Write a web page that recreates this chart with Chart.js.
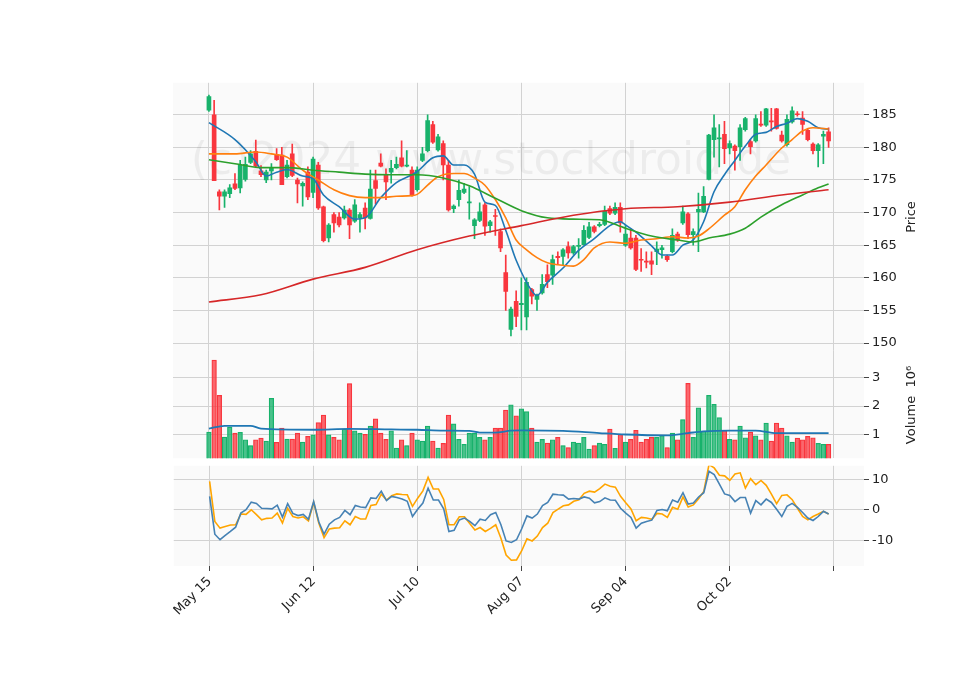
<!DOCTYPE html>
<html>
<head>
<meta charset="utf-8">
<script src="https://cdn.jsdelivr.net/npm/chart.js@4.4.1/dist/chart.umd.min.js"></script>
<style>
  body { margin: 0; background: #fff; }
  #wrap { position: relative; width: 960px; height: 690px; }
  canvas { position: absolute; left: 173px; }
</style>
</head>
<body>
<div id="wrap">
  <canvas id="price" width="787" height="290" style="top:72px"></canvas>
  <canvas id="volume" width="787" height="129" style="top:340px"></canvas>
  <canvas id="osc" width="787" height="235" style="top:455px"></canvas>
</div>
<script>
// candles, one per trading day
var opens  = [185.7,185,173.2,172.5,172.9,174.4,173.8,175.1,177.7,179.4,176.4,175,176.4,178.9,178.8,175.5,179,175,174.1,176.2,
  173.1,177.3,170.9,166.1,169.7,169.3,169.2,170.4,168.7,169.2,170.7,169.1,174.9,177.6,175.7,176.2,176.9,178.4,177.1,176.5,
  173.5,178,179.5,183.5,179.6,180.6,177.3,170.6,172,173.1,171.5,168,168.8,171.2,168,169.5,167.1,160.8,152.1,156.4,
  155.9,154,158.2,156.7,157.7,160.5,160.4,163.3,163.3,164.8,163.8,164.8,165.1,166.2,167.8,168,168.2,170.6,169.9,170.8,
  165,166.1,166.1,162.8,162.5,162.6,164,164.3,163.3,164,166.7,168.4,169.8,166.6,170.1,170.1,175.1,181.2,181.3,182,
  179.9,180.2,180.1,182.7,180.9,181,183.5,183.4,184,185.9,181.9,180.4,183.9,185.1,184.5,182.6,180.5,179.5,181.7,182.4];
var highs  = [188,187.2,173.5,173.5,174.3,176,178,178.5,179.5,181.1,177.2,176.5,177.5,179.8,180,178,180.5,175.3,174.7,177,
  178.5,177.7,171,168.3,170,170,171,170.6,172,170,171.5,176.5,176.5,179,176.7,178,178.5,181,179.5,177,
  177,180,185,184,182,181,178,171.2,175,174.5,174,169.1,171.5,171.5,168.8,170.5,167.5,163.5,155.5,158,
  160,160,158.4,157.5,160.5,162,163.5,164,164.5,165.5,165,166,168,168.5,168,168.5,171,171,171.5,171.5,
  168,167.5,166.5,164.5,164,164,165.5,165,163.5,167.5,167,171,170,167.5,173,174,182,185,183.5,184,
  181,180.4,183.5,184.6,181.2,185,185.5,186,186,186,182.5,185,186.2,185.5,185.5,182.8,180.7,180.6,182.5,183];
var lows   = [185.5,174.9,170.4,170.8,172.3,173.5,173,174.8,177.5,177,175.5,174.6,175,178,174.3,175.3,175.5,171.5,171,172,
  172.3,170.5,165.5,165.5,167,167.8,169,166,168.5,167,167.5,169,171.3,177,172,174.5,176.7,177,177,172.5,
  173.3,177.8,179.3,180.6,179.4,175,170.2,170,171,172.9,169,166,168.6,166.5,167,166.5,164,155,151.1,152.5,
  152,152,156,155,157.5,158.5,159,162,162,163,163.6,163,165,166,166.9,167.8,168,169.7,169.7,167,
  164.8,164.4,161.1,161,161.5,160.5,162,163,162.5,163.8,165.6,168.2,166,165,164,170,175,178.5,177,177.5,
  179,176.5,178,182.5,179,180.8,183.2,183.2,182.5,182.8,180.8,180.2,183.7,184.8,182,181,179,177,177.5,180];
var closes = [187.8,174.9,172.5,173.2,173.8,173.7,177.3,177.4,179,177.1,175.8,176.2,176.8,178.1,174.3,177.3,175.7,174.4,174.5,172.4,
  178.2,170.7,165.7,168.1,168.4,168.1,170.4,168.1,171.2,169.7,169.2,173.6,173.7,177.1,174.7,176.8,177.4,177.1,177.3,172.7,
  176.5,179,184.1,180.8,181.6,177.3,170.4,171,173.4,173.6,171.6,168.9,170.1,167.9,168.6,169.4,164.6,157.9,155.2,154.1,
  156.1,159.3,157.2,157.3,159,159.4,162.8,163.1,164.3,163.8,164.8,165,167.3,167.8,167.1,168.2,170.2,169.9,170.8,168.4,
  166.7,164.6,161.3,162.7,162.4,162.1,164.4,164.6,162.8,166.5,165.8,170.1,166.6,167.1,170.5,172.5,181.9,183,181.4,179.8,
  180.6,179.5,183,184.4,180.1,184.4,183.4,185.9,183.9,182.9,181,184.3,185.6,185,183.5,181.2,179.5,180.4,182,181];
// volume in millions
var volumes = [1.08,3.63,2.38,0.90,1.25,1.04,1.07,0.80,0.60,0.80,0.86,0.76,2.27,0.71,1.22,0.83,0.83,1.04,0.72,0.93,
  0.98,1.41,1.68,0.98,0.89,0.80,1.18,2.80,1.12,1.04,1.00,1.29,1.55,1.04,0.82,1.12,0.51,0.80,0.60,1.04,
  0.80,0.76,1.29,0.76,0.51,0.68,1.68,1.37,0.82,0.64,1.04,1.04,0.89,0.80,0.89,1.22,1.22,1.86,2.04,1.65,
  1.90,1.80,1.22,0.72,0.82,0.69,0.80,0.89,0.60,0.53,0.72,0.69,0.89,0.47,0.60,0.69,0.64,1.18,0.50,1.00,
  0.72,0.82,1.14,0.72,0.82,0.89,0.89,0.96,0.53,1.04,0.80,1.52,2.81,0.89,1.94,1.11,2.38,2.06,1.59,1.14,
  0.82,0.80,1.29,0.87,1.08,0.94,0.80,1.40,0.76,1.40,1.22,0.94,0.72,0.86,0.80,0.93,0.87,0.68,0.64,0.64];
// oscillator (two lines)
var oscOrange = [9.3,-3.8,-6.0,-5.5,-5.0,-4.9,-1.4,-1.5,0,-1.6,-3.3,-2.8,-2.7,-1.1,-4.3,0.5,-2.2,-2.7,-2.3,-3.6,
  2.4,-4.4,-9.1,-6.3,-6.0,-5.9,-3.6,-4.9,-2.2,-3.0,-3.0,1.4,1.7,5.1,3.2,4.6,5.2,5.0,4.9,1.1,
  3.8,6.2,10.6,6.8,6.8,3.4,-4.9,-4.9,-2.3,-2.3,-4.5,-6.6,-5.8,-7.1,-6.1,-4.9,-9.3,-14.8,-16.5,-16.4,
  -13.4,-9.5,-10.2,-8.6,-5.8,-4.4,-0.9,0.2,1.3,1.6,2.8,3.3,5.4,6.1,5.8,6.9,8.4,7.7,7.4,4.4,
  2.3,0.3,-3.6,-2.5,-2.7,-3.1,-1.2,-1.4,-2.5,0.8,0.2,4.2,0.9,1.6,3.6,6.0,14.8,13.7,11.3,11.1,
  9.6,11.7,12.1,7.1,10.2,8.2,9.6,8.0,5.1,2.0,4.7,4.9,3.3,0.5,-2.2,-3.3,-2.2,-1.4,-0.5,-1.4];
var oscBlue = [4.4,-8.0,-9.8,-8.4,-7.1,-5.7,-1.1,0,2.5,2.1,0.5,0.4,0.3,1.5,-2.4,2.0,-1.2,-1.9,-1.5,-3.1,
  2.7,-4.0,-8.0,-4.7,-3.3,-2.5,-0.2,-1.6,1.4,0.9,0.7,3.9,3.7,6.1,3.0,4.4,4.0,3.5,2.8,-2.2,
  0.2,2.2,7.1,3.2,3.2,0.3,-7.1,-6.7,-3.3,-2.7,-3.8,-5.2,-3.1,-3.5,-1.6,-0.9,-4.9,-10.2,-10.7,-9.8,
  -6.2,-2.0,-2.7,-1.4,1.4,2.4,5.1,4.9,4.8,3.5,3.7,3.5,4.2,3.8,2.3,2.7,3.9,3.2,3.1,0.5,
  -1.1,-2.5,-6.0,-4.4,-3.8,-3.4,-0.2,0.1,-0.3,3.2,2.5,5.6,1.9,2.2,4.2,5.6,12.6,11.5,8.4,5.2,
  4.7,2.7,4.0,4.0,-1.1,3.0,1.6,3.5,2.4,0.2,-2.2,1.1,2.1,0.8,-0.9,-2.7,-3.5,-2.2,-0.5,-1.4];
// moving averages as [day index, value]
var maFast = [[0,183.8],[5,181.2],[9,177.8],[11,175.6],[13,176.2],[15,176.6],[18,175.6],[20,175.2],[22,172.7],[25,170.9],
  [28,169],[30,169.2],[33,172.3],[36,174.6],[39,175.8],[40,176.3],[43,178.4],[45,178.7],[47,177.3],[49,177.3],
  [51,175.9],[53,171.6],[55,171.1],[57,167.3],[59,162.7],[62,158],[63,157.3],[65,159.3],[68,161.5],[71,164.2],
  [74,166],[77,168],[79,168.6],[80,168.1],[82,167],[85,164.9],[87,163.5],[89,163.5],[91,165],[93,165.8],
  [95,168.6],[97,173.2],[99,175.8],[101,178],[103,180.2],[105,182],[107,182.3],[109,183.2],[111,183.7],[113,184.4],
  [115,184],[117,183],[119,182.8]];
var maMid = [[0,179],[5,179],[9,179.3],[12,179],[15,178.5],[18,176.5],[21,175],[24,173.5],[27,172.6],[30,172.3],
  [33,172.3],[36,172.5],[39,172.6],[40,172.8],[42,174.2],[44,175.5],[47,176],[49,176],[51,175.3],[53,174.2],
  [55,172],[57,169.2],[59,165.8],[61,164.3],[63,163.1],[65,162.3],[67,162],[70,161.8],[72,162.8],[74,164.6],
  [77,165.5],[80,165.3],[83,165.8],[86,166],[89,166.3],[92,166.1],[94,166.4],[96,167.5],[99,169.6],[101,170.9],
  [103,173.5],[105,175.6],[107,177.3],[110,179.9],[112,181.2],[114,182.5],[116,183],[119,182.8]];
var maSlow = [[0,178.1],[5,177.5],[10,176.9],[15,176.9],[20,176.5],[25,176.2],[30,175.9],[35,175.8],[40,175.8],[45,175.3],
  [50,174.1],[55,172.2],[60,170.3],[65,169.2],[70,169],[75,168.9],[80,167.6],[85,166.4],[90,165.8],[93,165.5],
  [96,166.1],[100,166.7],[103,167.6],[106,169.3],[110,171.2],[114,172.7],[117,173.8],[119,174.4]];
var maLong = [[0,156.3],[10,157.4],[20,159.8],[30,161.6],[40,164.3],[50,166.4],[60,168],[70,169.6],[80,170.6],[90,170.9],
  [100,171.6],[110,172.7],[119,173.5]];
var volMa = [[0,1.20],[3,1.30],[8,1.30],[10,1.20],[20,1.16],[27,1.19],[35,1.17],[40,1.16],[45,1.13],[50,1.12],
  [52,1.06],[55,1.06],[58,1.13],[60,1.14],[68,1.12],[75,1.04],[80,0.99],[88,0.96],[92,1.04],[95,1.10],
  [100,1.13],[105,1.13],[109,1.04],[119,1.04]];

var tickIdx = [0, 20, 40, 60, 80, 100, 120];
var tickLabels = ['May 15', 'Jun 12', 'Jul 10', 'Aug 07', 'Sep 04', 'Oct 02', ''];
var priceTicks = [150, 155, 160, 165, 170, 175, 180, 185];
var volTicks = [1, 2, 3];
var oscTicks = [-10, 0, 10];

var UP = '#18b26b', DOWN = '#f9363e';
var UPV = 'rgba(24,178,107,0.78)', DOWNV = 'rgba(249,54,62,0.75)';
var GRID = '#d2d2d2';
var FONT = { family: 'DejaVu Sans', size: 13 };

Chart.defaults.font.family = 'DejaVu Sans';
Chart.defaults.animation = false;

var isUp = closes.map(function (c, i) { return c >= opens[i]; });
function pts(arr) { return arr.map(function (p) { return { x: p[0], y: p[1] }; }); }
function seq(arr) { return arr.map(function (v, i) { return { x: i, y: v }; }); }

var panelBg = {
  id: 'panelBg',
  beforeDraw: function (chart) {
    var a = chart.chartArea, ctx = chart.ctx;
    ctx.save();
    ctx.fillStyle = '#fafafa';
    ctx.fillRect(a.left, a.top, a.right - a.left, a.bottom - a.top);
    ctx.restore();
  }
};

function sideTitle(text, y) {
  return {
    id: 'sideTitle',
    afterDraw: function (chart) {
      var ctx = chart.ctx;
      ctx.save();
      ctx.translate(739, y);
      ctx.rotate(-Math.PI / 2);
      ctx.fillStyle = '#222';
      ctx.font = '13px DejaVu Sans';
      ctx.textAlign = 'center';
      ctx.textBaseline = 'middle';
      ctx.fillText(text, 0, 0);
      ctx.restore();
    }
  };
}

var watermark = {
  id: 'watermark',
  beforeDatasetsDraw: function (chart) {
    var ctx = chart.ctx;
    ctx.save();
    ctx.fillStyle = 'rgba(0,0,0,0.055)';
    ctx.font = '44px DejaVu Sans';
    ctx.textAlign = 'center';
    ctx.textBaseline = 'middle';
    ctx.fillText('(c)2024 www.stockdroid.de', 318, 91);
    ctx.restore();
  }
};

function xScale(bottomHeight) {
  return {
    type: 'linear', min: -6.9, max: 125.8, offset: false,
    afterBuildTicks: function (s) { s.ticks = tickIdx.map(function (v) { return { value: v }; }); },
    afterFit: function (s) { s.height = bottomHeight; },
    grid: { color: GRID, drawTicks: bottomHeight > 0, tickLength: 5, tickColor: '#444', offset: false },
    border: { display: false },
    ticks: {
      display: bottomHeight > 0, color: '#222', font: FONT,
      minRotation: 45, maxRotation: 45, autoSkip: false,
      callback: function (v) { var k = tickIdx.indexOf(v); return k < 0 ? '' : tickLabels[k]; }
    }
  };
}

function yScale(min, max, ticks) {
  return {
    position: 'right', min: min, max: max,
    afterBuildTicks: function (s) { s.ticks = ticks.map(function (v) { return { value: v }; }); },
    afterFit: function (s) { s.width = 96; },
    grid: { color: GRID, tickLength: 5, tickColor: '#444' },
    border: { display: false },
    ticks: { color: '#222', font: FONT, padding: 3 }
  };
}

function lineSet(data, color, width) {
  return { type: 'line', data: data, borderColor: color, borderWidth: width || 1.6,
    pointRadius: 0, fill: false, cubicInterpolationMode: 'monotone', order: -1 };
}

var baseOpts = function (xs, ys) {
  return {
    responsive: false,
    layout: { padding: 0 },
    plugins: { legend: { display: false }, tooltip: { enabled: false } },
    scales: { x: xs, y: ys }
  };
};

new Chart(document.getElementById('price'), {
  type: 'bar',
  data: {
    datasets: [
      { data: opens.map(function (o, i) { return { x: i, y: [lows[i], highs[i]] }; }),
        backgroundColor: isUp.map(function (u) { return u ? UP : DOWN; }),
        barThickness: 1, grouped: false, order: 2 },
      { data: opens.map(function (o, i) { return { x: i, y: [o, closes[i]] }; }),
        backgroundColor: isUp.map(function (u) { return u ? UP : DOWN; }),
        barThickness: 4, minBarLength: 1, grouped: false, order: 1 },
      lineSet(pts(maLong), '#d62728'),
      lineSet(pts(maSlow), '#2ca02c'),
      lineSet(pts(maMid), '#ff7f0e'),
      lineSet(pts(maFast), '#1f77b4')
    ]
  },
  options: baseOpts(xScale(0), yScale(148.75, 189.9, priceTicks)),
  plugins: [panelBg, watermark, sideTitle('Price', 145)]
});

new Chart(document.getElementById('volume'), {
  type: 'bar',
  data: {
    datasets: [
      { data: seq(volumes),
        backgroundColor: isUp.map(function (u) { return u ? UPV : DOWNV; }),
        borderColor: isUp.map(function (u) { return u ? UP : DOWN; }),
        borderWidth: 0.6, barThickness: 4.6, grouped: false, base: 0, order: 1 },
      lineSet(pts(volMa), '#1f77b4', 1.8)
    ]
  },
  options: baseOpts(xScale(0), yScale(0.15, 3.96, volTicks)),
  plugins: [panelBg, sideTitle('Volume  10\u2076', 65)]
});

new Chart(document.getElementById('osc'), {
  type: 'line',
  data: {
    datasets: [
      { data: seq(oscBlue), borderColor: '#4682b4', borderWidth: 1.6, pointRadius: 0, tension: 0 },
      { data: seq(oscOrange), borderColor: '#ffa500', borderWidth: 1.6, pointRadius: 0, tension: 0 }
    ]
  },
  options: baseOpts(xScale(124), yScale(-18.4, 14.4, oscTicks)),
  plugins: [panelBg]
});
</script>
</body>
</html>
